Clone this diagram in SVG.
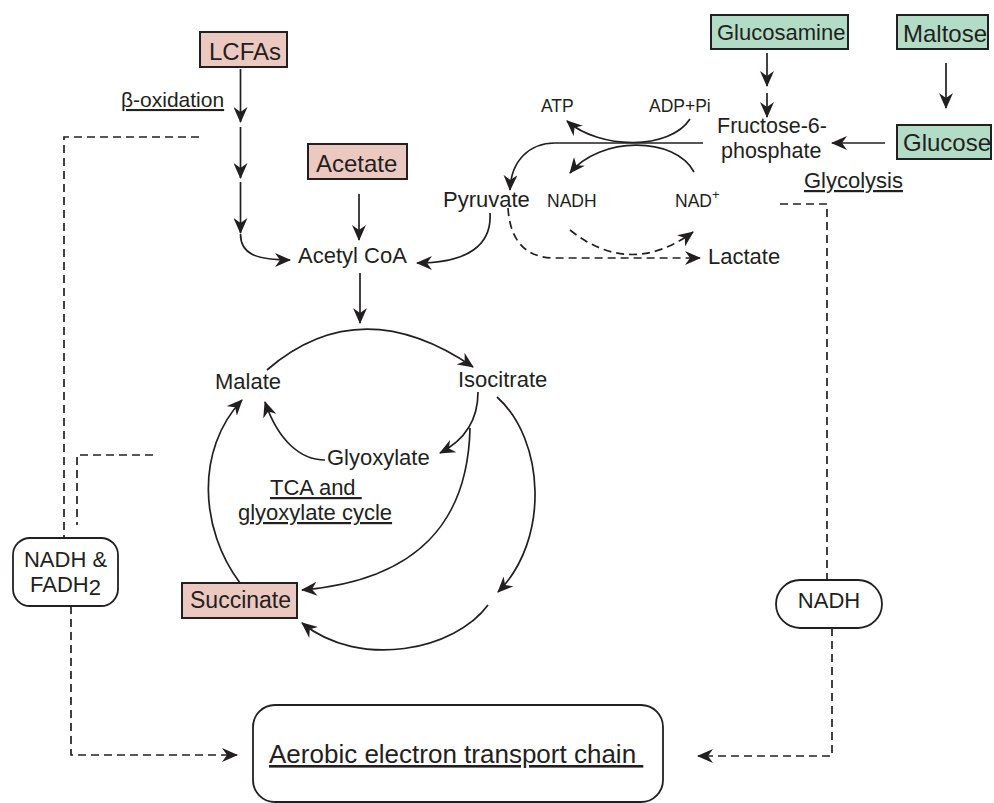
<svg xmlns="http://www.w3.org/2000/svg" width="994" height="803" viewBox="0 0 994 803">
<defs>
<style>
text{font-family:"Liberation Sans",Arial,sans-serif;fill:#231f20}
.f24{font-size:24px}.f22{font-size:22px}.f21{font-size:21.5px}.f17{font-size:17.5px}.f23{font-size:23px}
.u{text-decoration:underline}
.pink{fill:#ecc9c0;stroke:#231f20;stroke-width:2}
.green{fill:#b3dcc6;stroke:#231f20;stroke-width:2}
.pill{fill:#fff;stroke:#231f20;stroke-width:1.8}
.ln{fill:none;stroke:#231f20;stroke-width:1.7}
.ds{fill:none;stroke:#231f20;stroke-width:1.7;stroke-dasharray:8 5}
.a{marker-end:url(#ah)}
</style>
<marker id="ah" viewBox="0 0 16 14" refX="15" refY="7" markerWidth="16" markerHeight="14" orient="auto" markerUnits="userSpaceOnUse">
<path d="M0,0 L16,7 L0,14 L5,7 z" fill="#231f20"/>
</marker>
</defs>
<rect width="994" height="803" fill="#fff"/>

<g id="connectors">
<path class="ln a" d="M240.5,69 V122"/>
<path class="ln a" d="M240.5,127 V178"/>
<path class="ln a" d="M240.5,182 V233"/>
<path class="ln a" d="M240.5,234 C240.5,254 256,260 290,260"/>
<path class="ln a" d="M359,194 V240"/>
<path class="ln a" d="M490,213 C492,245 468,263 417,263"/>
<path class="ln a" d="M360,273 V323"/>
<path class="ln a" d="M267,370 Q360,290 473,367"/>
<path class="ln a" d="M497,397 C545,440 550,540 498,592"/>
<path class="ln a" d="M488,605 C455,650 360,670 302,623"/>
<path class="ln a" d="M240,583 C200,530 195,450 242,400"/>
<path class="ln a" d="M478,392 C478,420 465,440 440,453"/>
<path class="ln a" d="M470,428 C468,520 420,580 302,590"/>
<path class="ln a" d="M325,460 C300,460 278,440 265,402"/>
<path class="ln a" d="M767,53 V86"/>
<path class="ln a" d="M767,93 V117"/>
<path class="ln a" d="M946,63 V108"/>
<path class="ln a" d="M885,143 H832"/>
<path class="ln a" d="M703,143 H555 C530,143 511,160 510,190"/>
<path class="ln a" d="M690,119 C670,150 600,150 567,121"/>
<path class="ln a" d="M694,172 C675,136 600,136 570,173"/>
<path class="ds a" d="M508,208 C510,240 525,258 555,258 H700"/>
<path class="ds a" d="M570,230 Q630,278 693,232"/>
<path class="ds" d="M199,137 H64 V538"/>
<path class="ds" d="M153,455 H77 V525"/>
<path class="ds a" d="M71,606 V755 H237"/>
<path class="ds" d="M780,204 H827 V580"/>
<path class="ds a" d="M832,628 V756 H698"/>
</g>

<g id="lcfas"><rect class="pink" x="200" y="32" width="87" height="35"/><text class="f24" x="209" y="60">LCFAs</text></g>
<g id="beta-oxidation"><text class="u" style="font-size:21px" x="121" y="107">β-oxidation</text></g>
<g id="acetate"><rect class="pink" x="308" y="144" width="99" height="35"/><text class="f24" x="316" y="172">Acetate</text></g>
<g id="acetyl-coa"><text class="f22" x="298" y="263">Acetyl CoA</text></g>
<g id="pyruvate"><text class="f22" x="443" y="207">Pyruvate</text></g>
<g id="glucosamine"><rect class="green" x="711" y="15" width="137" height="34"/><text class="f22" x="717" y="40">Glucosamine</text></g>
<g id="maltose"><rect class="green" x="897" y="15" width="91" height="34"/><text class="f24" x="903" y="42">Maltose</text></g>
<g id="glucose"><rect class="green" x="897" y="125" width="94" height="34"/><text class="f24" x="903" y="151">Glucose</text></g>
<g id="fructose-6-phosphate"><text class="f21" x="717" y="133">Fructose-6-</text><text class="f21" x="721" y="158">phosphate</text></g>
<g id="glycolysis"><text class="f22 u" x="804" y="188">Glycolysis</text></g>
<g id="atp"><text class="f17" x="541" y="112">ATP</text></g>
<g id="adp-pi"><text class="f17" x="649" y="112">ADP+Pi</text></g>
<g id="nadh-gly"><text class="f17" x="547" y="207">NADH</text></g>
<g id="nad"><text class="f17" x="675" y="207">NAD<tspan dy="-8" style="font-size:13px">+</tspan></text></g>
<g id="lactate"><text class="f22" x="708" y="264">Lactate</text></g>
<g id="malate"><text class="f22" x="215" y="389">Malate</text></g>
<g id="isocitrate"><text class="f22" x="458" y="387">Isocitrate</text></g>
<g id="glyoxylate"><text class="f22" x="327" y="465">Glyoxylate</text></g>
<g id="tca-label"><text class="f22 u" x="270" y="495">TCA and&#160;</text><text class="f22 u" x="238" y="520">glyoxylate cycle</text></g>
<g id="succinate"><rect class="pink" x="182" y="583" width="115" height="35"/><text class="f23" x="190" y="608">Succinate</text></g>
<g id="nadh-fadh2"><rect class="pill" x="13" y="538" width="105" height="68" rx="17"/><text class="f22" x="65.5" y="567" text-anchor="middle">NADH &amp;</text><text class="f22" x="65.5" y="592" text-anchor="middle">FADH<tspan dy="3">2</tspan></text></g>
<g id="nadh"><rect class="pill" x="776" y="580" width="106" height="48" rx="24"/><text class="f22" x="829" y="608" text-anchor="middle">NADH</text></g>
<g id="etc"><rect class="pill" x="253" y="705" width="410" height="97" rx="22"/><text class="u" style="font-size:26px" x="269" y="763">Aerobic electron transport chain&#160;</text></g>
</svg>
